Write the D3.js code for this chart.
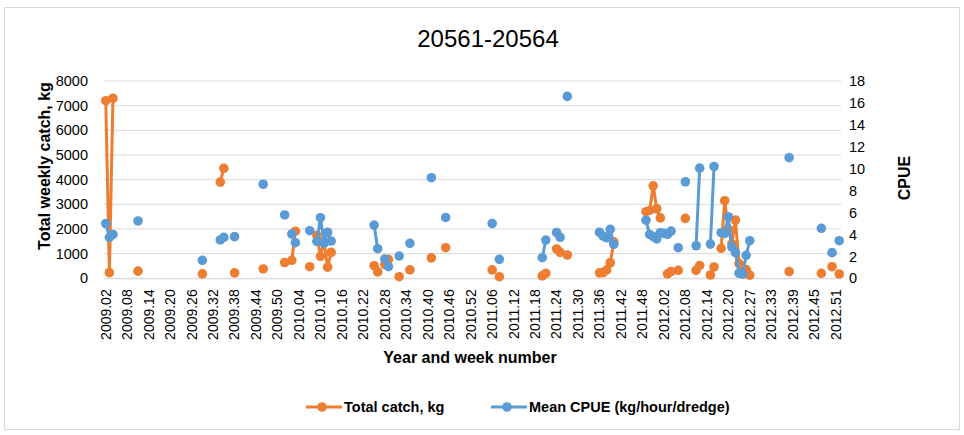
<!DOCTYPE html>
<html>
<head>
<meta charset="utf-8">
<script src="https://cdn.jsdelivr.net/npm/d3@7"></script>
<style>
  html, body { margin: 0; padding: 0; background: #fff; }
  svg { display: block; }
  text { font-family: "Liberation Sans", Arial, sans-serif; fill: #000; }
</style>
</head>
<body>
<div id="chart"></div>
<script>
// week categories: every week 2009.02 .. 2012.52, one 2012 week absent from the sheet
const years = [2009, 2010, 2011, 2012];
const firstWeek = "2009.02";
const missingWeeks = ["2012.23"];

const catchData = [
  ["2009.02", 7200], ["2009.03", 230], ["2009.04", 7300], ["2009.11", 290],
  ["2009.29", 180], ["2009.34", 3900], ["2009.35", 4460], ["2009.38", 220],
  ["2009.46", 380], ["2009.52", 640], ["2010.02", 730], ["2010.03", 1910],
  ["2010.07", 470], ["2010.09", 1740], ["2010.10", 890], ["2010.11", 1500],
  ["2010.12", 450], ["2010.13", 1050], ["2010.25", 510], ["2010.26", 260],
  ["2010.28", 560], ["2010.29", 770], ["2010.32", 65], ["2010.35", 340],
  ["2010.41", 830], ["2010.45", 1240], ["2011.06", 340], ["2011.08", 65],
  ["2011.20", 100], ["2011.21", 200], ["2011.24", 1190], ["2011.25", 1050],
  ["2011.27", 945], ["2011.36", 220], ["2011.37", 230], ["2011.38", 340],
  ["2011.39", 630], ["2011.40", 1480], ["2011.49", 2700], ["2011.50", 2750],
  ["2011.51", 3750], ["2011.52", 2820], ["2012.01", 2450], ["2012.03", 180],
  ["2012.04", 270], ["2012.06", 320], ["2012.08", 2430], ["2012.11", 320],
  ["2012.12", 520], ["2012.15", 134], ["2012.16", 460], ["2012.18", 1217],
  ["2012.19", 3147], ["2012.20", 2000], ["2012.21", 1400], ["2012.22", 2364],
  ["2012.24", 600], ["2012.25", 250], ["2012.26", 350], ["2012.27", 130],
  ["2012.38", 270], ["2012.47", 203], ["2012.50", 470], ["2012.52", 174]
];

const cpueData = [
  ["2009.02", 5.0], ["2009.03", 3.74], ["2009.04", 4.0], ["2009.11", 5.23],
  ["2009.29", 1.64], ["2009.34", 3.5], ["2009.35", 3.74], ["2009.38", 3.8],
  ["2009.46", 8.58], ["2009.52", 5.78], ["2010.02", 4.04], ["2010.03", 3.25],
  ["2010.07", 4.34], ["2010.09", 3.37], ["2010.10", 5.53], ["2010.11", 3.2],
  ["2010.12", 4.2], ["2010.13", 3.4], ["2010.25", 4.86], ["2010.26", 2.7],
  ["2010.28", 1.76], ["2010.29", 1.06], ["2010.32", 2.03], ["2010.35", 3.19],
  ["2010.41", 9.18], ["2010.45", 5.55], ["2011.06", 5.0], ["2011.08", 1.73],
  ["2011.20", 1.88], ["2011.21", 3.49], ["2011.24", 4.18], ["2011.25", 3.74],
  ["2011.27", 16.6], ["2011.36", 4.2], ["2011.37", 3.86], ["2011.38", 3.7],
  ["2011.39", 4.47], ["2011.40", 3.1], ["2011.49", 5.3], ["2011.50", 4.0],
  ["2011.51", 3.8], ["2011.52", 3.6], ["2012.01", 4.16], ["2012.02", 4.1],
  ["2012.03", 4.0], ["2012.04", 4.3], ["2012.06", 2.79], ["2012.08", 8.81],
  ["2012.11", 2.97], ["2012.12", 10.05], ["2012.15", 3.12], ["2012.16", 10.2],
  ["2012.18", 4.16], ["2012.19", 4.1], ["2012.20", 5.62], ["2012.21", 2.85],
  ["2012.22", 2.34], ["2012.24", 0.46], ["2012.25", 0.38], ["2012.26", 2.1],
  ["2012.27", 3.43], ["2012.38", 11.0], ["2012.47", 4.56], ["2012.50", 2.34],
  ["2012.52", 3.43]
];

const leftTicks = [0, 1000, 2000, 3000, 4000, 5000, 6000, 7000, 8000];
const rightTicks = [0, 2, 4, 6, 8, 10, 12, 14, 16, 18];
const labelEvery = 6;

const title = "20561-20564";
const seriesNames = ["Total catch, kg", "Mean CPUE (kg/hour/dredge)"];
const colors = ["#ED7D31", "#5B9BD5"];

// build category list
const categories = [];
years.forEach(y => {
  for (let w = 1; w <= 52; w++) {
    const c = y + "." + String(w).padStart(2, "0");
    if (c < firstWeek || missingWeeks.includes(c)) continue;
    categories.push(c);
  }
});
const xLabels = categories.filter((c, i) => i % labelEvery === 0);

const W = 964, H = 435;
const plot = { left: 104, right: 841, top: 81, bottom: 278.3 };

const svg = d3.select("#chart").append("svg")
  .attr("width", W).attr("height", H);

// chart area border
svg.append("rect")
  .attr("x", 4.5).attr("y", 7.5)
  .attr("width", 955).attr("height", 422)
  .attr("fill", "#fff")
  .attr("stroke", "#d9d9d9");

const x = d3.scaleBand().domain(categories).range([plot.left, plot.right]);
const yL = d3.scaleLinear().domain([0, 8000]).range([plot.bottom, plot.top]);
const yR = d3.scaleLinear().domain([0, 18]).range([plot.bottom, plot.top]);
const cx = c => x(c) + x.bandwidth() / 2;

// gridlines
svg.append("g").selectAll("line")
  .data(leftTicks)
  .enter().append("line")
  .attr("x1", plot.left).attr("x2", plot.right)
  .attr("y1", d => yL(d)).attr("y2", d => yL(d))
  .attr("stroke", "#d9d9d9").attr("stroke-width", 1);

// axes
const axL = svg.append("g")
  .attr("transform", `translate(${plot.left},0)`)
  .call(d3.axisLeft(yL).tickValues(leftTicks).tickFormat(d3.format("d")).tickSize(0).tickPadding(16));
axL.select(".domain").remove();
axL.selectAll("text").attr("font-size", 14.5).style("font-family", "inherit");

const axR = svg.append("g")
  .attr("transform", `translate(${plot.right},0)`)
  .call(d3.axisRight(yR).tickValues(rightTicks).tickSize(0).tickPadding(8));
axR.select(".domain").remove();
axR.selectAll("text").attr("font-size", 14.5).style("font-family", "inherit");

const axB = svg.append("g")
  .attr("transform", `translate(0,${plot.bottom})`)
  .call(d3.axisBottom(x).tickValues(xLabels).tickSize(0));
axB.select(".domain").attr("stroke", "#d9d9d9");
axB.selectAll("text")
  .attr("font-size", 14)
  .style("font-family", "inherit")
  .attr("text-anchor", "end")
  .attr("transform", "rotate(-90)")
  .attr("x", -11).attr("y", 0).attr("dy", "0.35em");

// series
function fullSeries(data) {
  const m = new Map(data);
  return categories.map(c => ({ c, v: m.has(c) ? m.get(c) : null }));
}
const series = [
  { vals: fullSeries(catchData), y: yL, color: colors[0] },
  { vals: fullSeries(cpueData), y: yR, color: colors[1] }
];

series.forEach(s => {
  const line = d3.line()
    .defined(d => d.v != null)
    .x(d => cx(d.c))
    .y(d => s.y(d.v));
  const g = svg.append("g");
  g.append("path")
    .datum(s.vals)
    .attr("fill", "none")
    .attr("stroke", s.color)
    .attr("stroke-width", 3)
    .attr("stroke-linejoin", "round")
    .attr("d", line);
  g.selectAll("circle")
    .data(s.vals.filter(d => d.v != null))
    .enter().append("circle")
    .attr("cx", d => cx(d.c))
    .attr("cy", d => s.y(d.v))
    .attr("r", 4.8)
    .attr("fill", s.color);
});

// titles
svg.append("text")
  .attr("x", 488).attr("y", 47)
  .attr("text-anchor", "middle")
  .attr("font-size", 24)
  .text(title);

svg.append("text")
  .attr("transform", "translate(50,166) rotate(-90)")
  .attr("text-anchor", "middle")
  .attr("font-size", 16)
  .attr("font-weight", "bold")
  .text("Total weekly catch, kg");

svg.append("text")
  .attr("transform", "translate(910,178) rotate(-90)")
  .attr("text-anchor", "middle")
  .attr("font-size", 16)
  .attr("font-weight", "bold")
  .text("CPUE");

svg.append("text")
  .attr("x", 470).attr("y", 363)
  .attr("text-anchor", "middle")
  .attr("font-size", 16)
  .attr("font-weight", "bold")
  .text("Year and week number");

// legend
const legendX = [306, 491];
const leg = svg.append("g").selectAll("g")
  .data(seriesNames)
  .enter().append("g")
  .attr("transform", (d, i) => `translate(${legendX[i]},407)`);
leg.append("line")
  .attr("x1", 0).attr("x2", 36)
  .attr("stroke", (d, i) => colors[i])
  .attr("stroke-width", 3);
leg.append("circle")
  .attr("cx", 16).attr("r", 4.8)
  .attr("fill", (d, i) => colors[i]);
leg.append("text")
  .attr("x", 38).attr("dy", "0.35em")
  .attr("font-size", 14.5)
  .attr("font-weight", "bold")
  .text(d => d);
</script>
</body>
</html>
